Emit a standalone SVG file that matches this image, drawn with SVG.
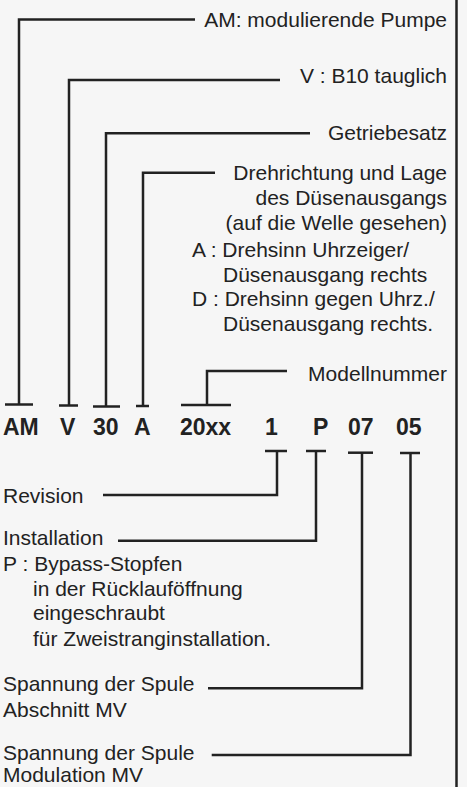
<svg xmlns="http://www.w3.org/2000/svg" width="467" height="787" viewBox="0 0 467 787">
<style>
.t{font-family:"Liberation Sans",Arial,sans-serif;font-size:21px;fill:#222}
.r{text-anchor:end}
.b{font-family:"Liberation Sans",Arial,sans-serif;font-size:23px;font-weight:bold;fill:#222}
.c{fill:none;stroke:#222;stroke-width:2.5;stroke-linejoin:miter}
</style>
<rect width="467" height="787" fill="#f6f6f6"/>
<line x1="456.5" y1="0" x2="456.5" y2="787" stroke="#222" stroke-width="2.5"/>
<g id="connectors">
<line class="c" x1="5" y1="404.5" x2="33" y2="404.5"/>
<polyline class="c" points="195,19.5 19,19.5 19,404.5"/>
<line class="c" x1="59" y1="405.5" x2="78" y2="405.5"/>
<polyline class="c" points="280,80 69,80 69,405.5"/>
<line class="c" x1="93" y1="406.5" x2="120" y2="406.5"/>
<polyline class="c" points="310,133.3 106,133.3 106,406.5"/>
<line class="c" x1="136" y1="406" x2="149" y2="406"/>
<polyline class="c" points="215,172.7 143,172.7 143,406"/>
<line class="c" x1="181" y1="405" x2="231" y2="405"/>
<polyline class="c" points="287,371 207,371 207,405"/>
<line class="c" x1="265" y1="451" x2="287" y2="451"/>
<polyline class="c" points="103,495 277,495 277,451"/>
<line class="c" x1="306" y1="451" x2="326" y2="451"/>
<polyline class="c" points="118,540.7 316,540.7 316,451"/>
<line class="c" x1="348" y1="452.7" x2="373" y2="452.7"/>
<polyline class="c" points="208,688.3 362,688.3 362,452.7"/>
<line class="c" x1="400" y1="453" x2="420" y2="453"/>
<polyline class="c" points="211.7,755 410.5,755 410.5,453"/>
</g>
<g id="code">
<text class="b" x="3" y="435">AM</text>
<text class="b" x="60" y="435">V</text>
<text class="b" x="93" y="435">30</text>
<text class="b" x="134" y="435">A</text>
<text class="b" x="180" y="435">20xx</text>
<text class="b" x="265" y="435">1</text>
<text class="b" x="313" y="435">P</text>
<text class="b" x="348" y="435">07</text>
<text class="b" x="396" y="435">05</text>
</g>
<g id="label-am"><text class="t r" x="447" y="27">AM: modulierende Pumpe</text></g>
<g id="label-v"><text class="t r" x="447" y="83">V : B10 tauglich</text></g>
<g id="label-getriebe"><text class="t r" x="447" y="140">Getriebesatz</text></g>
<g id="label-dreh">
<text class="t r" x="447" y="180">Drehrichtung und Lage</text>
<text class="t r" x="447" y="205">des Düsenausgangs</text>
<text class="t r" x="447" y="230">(auf die Welle gesehen)</text>
<text class="t" x="192" y="257">A : Drehsinn Uhrzeiger/</text>
<text class="t" x="223" y="282">Düsenausgang rechts</text>
<text class="t" x="192" y="306">D : Drehsinn gegen Uhrz./</text>
<text class="t" x="223" y="331">Düsenausgang rechts.</text>
</g>
<g id="label-modell"><text class="t r" x="447" y="381">Modellnummer</text></g>
<g id="label-revision"><text class="t" x="3" y="503">Revision</text></g>
<g id="label-installation">
<text class="t" x="3" y="545">Installation</text>
<text class="t" x="3" y="571">P : Bypass-Stopfen</text>
<text class="t" x="33" y="596">in der Rücklauföffnung</text>
<text class="t" x="33" y="620">eingeschraubt</text>
<text class="t" x="33" y="646">für Zweistranginstallation.</text>
</g>
<g id="label-spule1">
<text class="t" x="3" y="691">Spannung der Spule</text>
<text class="t" x="3" y="717">Abschnitt MV</text>
</g>
<g id="label-spule2">
<text class="t" x="3" y="760">Spannung der Spule</text>
<text class="t" x="3" y="782">Modulation MV</text>
</g>
</svg>
